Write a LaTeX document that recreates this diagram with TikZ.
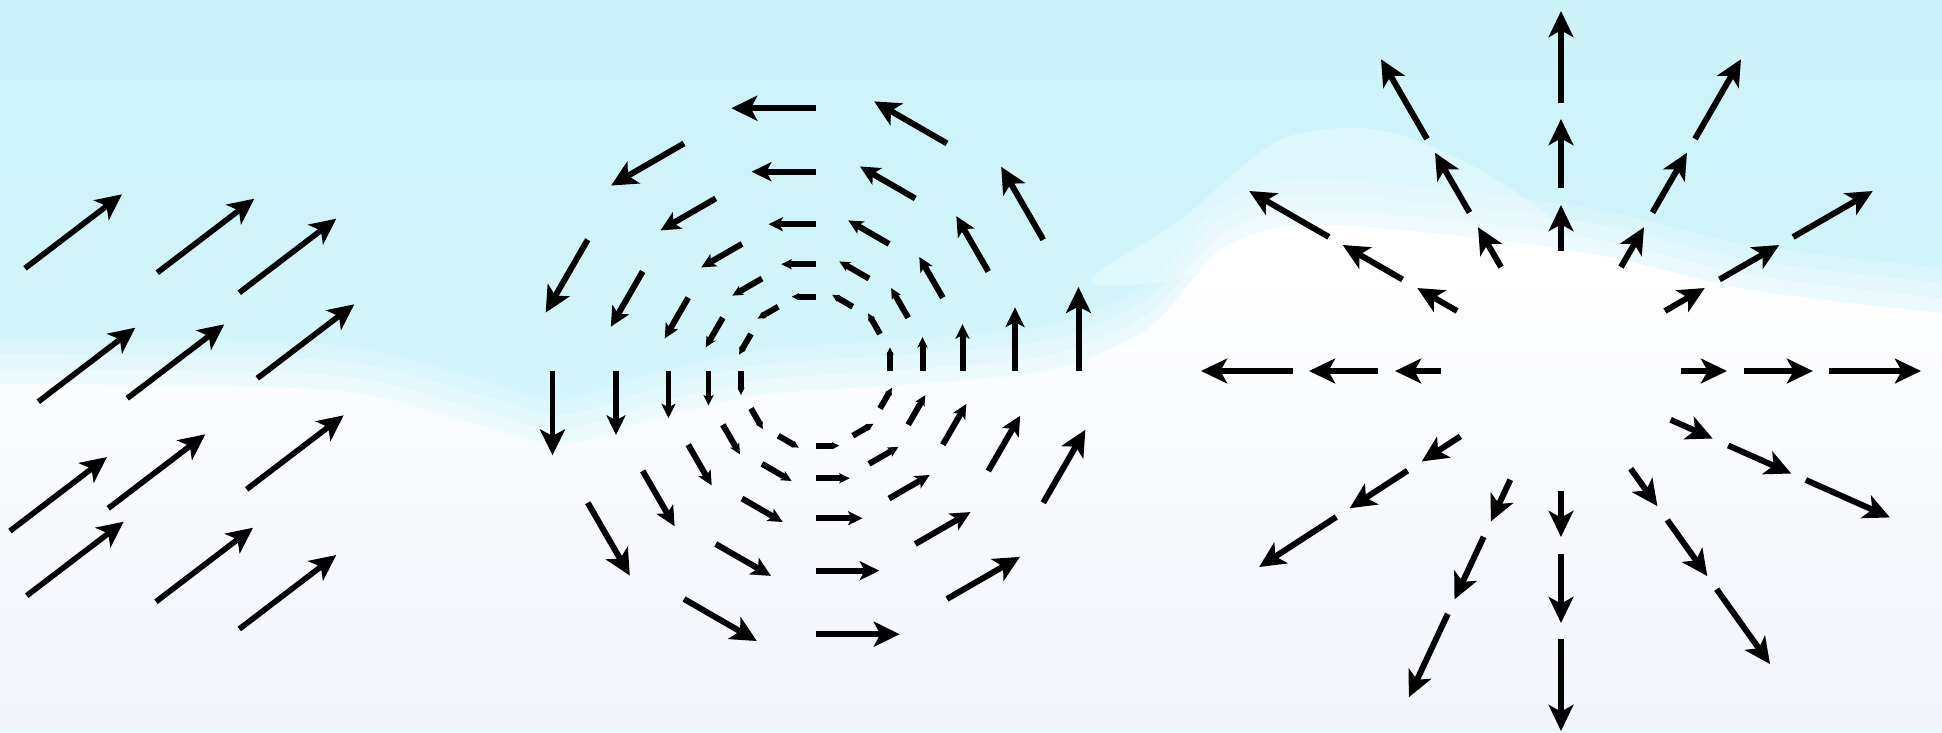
\documentclass[tikz,border=0pt]{standalone}
\usepackage{tikz}
\usetikzlibrary{arrows.meta, calc}
\definecolor{skytop}{HTML}{CCF2FA}
\definecolor{skylow}{HTML}{DBF7FC}
\definecolor{skyband}{HTML}{E2F9FD}
\definecolor{groundtint}{HTML}{F2F5FC}
\tikzset{
  vec/.style={-{Stealth[length=7.4pt, width=7pt, inset=1.9pt]}, line width=1.7pt, black},
  flow/.style={vec, line width=1.6pt},
  swirlvec/.style={line width=1.7pt, black},
}

\begin{document}
\begin{tikzpicture}[x=0.01cm, y=0.01cm]
  \useasboundingbox (0,0) rectangle (1942,732);
  \shade[top color=skytop, bottom color=skylow] (0,0) rectangle (1942,732);
  \fill[skyband, opacity=0.8] plot[smooth cycle] coordinates {
    (1090,452) (1180,512) (1280,592) (1380,602) (1480,562) (1560,502) (1500,472) (1300,482) (1160,450)};
  \foreach \d/\o in {45/0.2, 30/0.25, 15/0.35}
    \fill[white, opacity=\o, shift={(0,\d)}] plot[smooth] coordinates {
      (0,348) (330,342) (480,307) (560,287) (650,312) (760,337) (900,347) (1050,362)
      (1150,405) (1220,482) (1300,507) (1450,497) (1600,477) (1750,442) (1942,419)}
      -- (1942,-100) -- (0,-100) -- cycle;
  \shade[top color=white, bottom color=groundtint] plot[smooth] coordinates {
    (0,348) (330,342) (480,307) (560,287) (650,312) (760,337) (900,347) (1050,362)
    (1150,405) (1220,482) (1300,507) (1450,497) (1600,477) (1750,442) (1942,419)}
    -- (1942,0) -- (0,0) -- cycle;

  \coordinate (swirl) at (815.5,360.8);
  \coordinate (burst) at (1561,361);

  % uniform field
  \foreach \x/\y in {25/463.7, 157.3/459.3, 239.3/439.3, 38.3/330.3, 127.3/333.7, 257.3/353.7,
                     10/201, 108.3/223.7, 246.7/242.7, 26.7/136.3, 156/130.3, 239.3/103}
    \draw[flow] (\x,\y) -- ++(97,74);

  % rotating field
  \foreach \r in {74.5,107,147,199.5,263}{
    \pgfmathsetmacro{\hl}{0.028*\r}
    \pgfmathsetmacro{\hw}{0.027*\r}
    \pgfmathsetmacro{\hi}{0.007*\r}
    \foreach \a in {0,30,...,330}
      \draw[swirlvec, -{Stealth[length=\hl pt, width=\hw pt, inset=\hi pt]}]
        ($(swirl)+(\a:\r)$) -- ++(\a+90:0.32*\r);
  }

  % radial field
  \foreach \a in {0,30,60,90,120,150,180,213,245,270,305.5,336}
    \foreach \ri/\ro in {120/166,183/252,268/360}
      \draw[vec] ($(burst)+(\a:\ri)$) -- ($(burst)+(\a:\ro)$);
\end{tikzpicture}
\end{document}
